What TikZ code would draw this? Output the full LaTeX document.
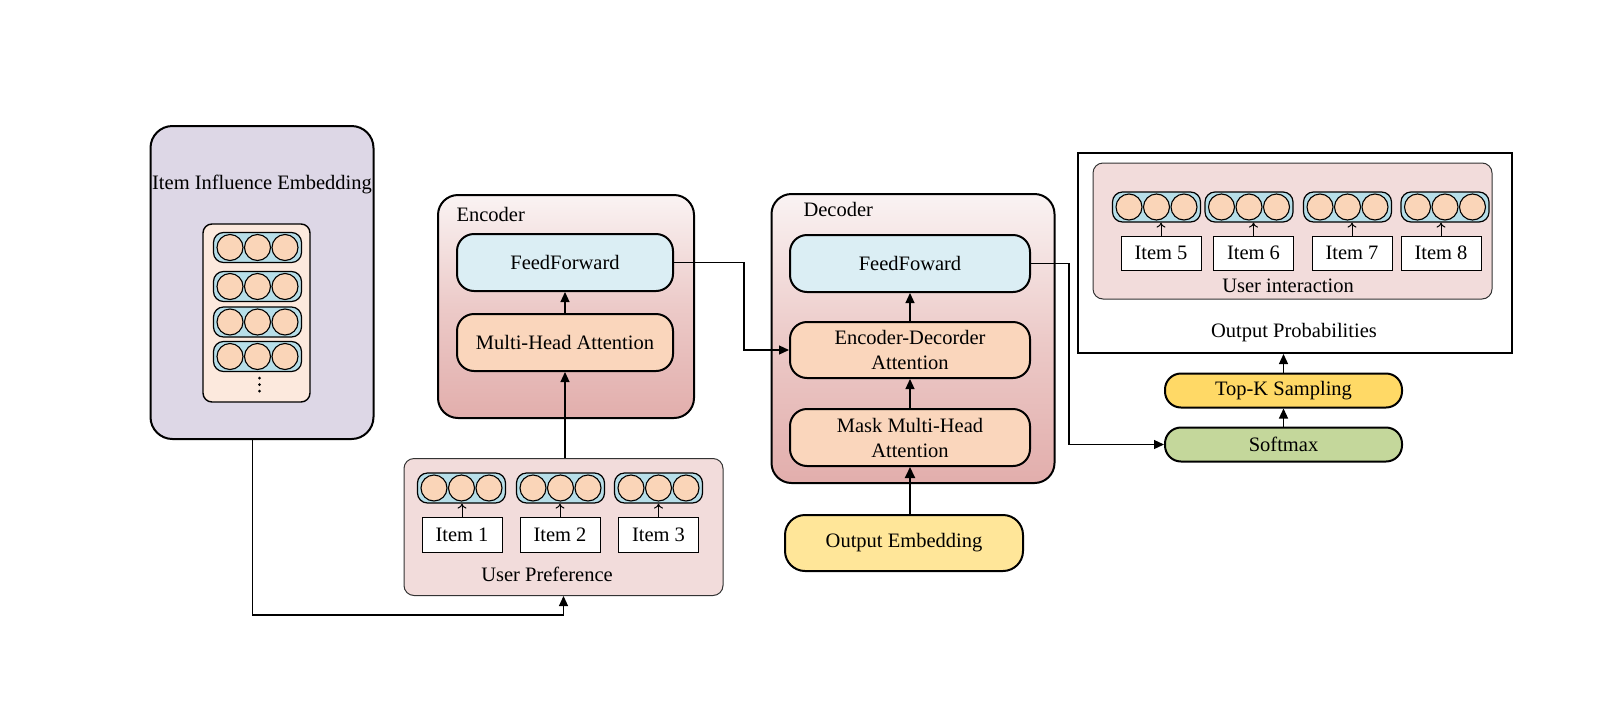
\documentclass[tikz,border=0pt]{standalone}
\usepackage{fontspec}
\setmainfont{Liberation Serif}
\usetikzlibrary{arrows.meta,calc}
\definecolor{lav}{HTML}{DDD7E6}
\definecolor{innerpeach}{HTML}{FCE9DD}
\definecolor{capblue}{HTML}{B7DEE8}
\definecolor{peach}{HTML}{FAD5B8}
\definecolor{ffblue}{HTML}{DBEEF4}
\definecolor{attpeach}{HTML}{FAD6BC}
\definecolor{pinkbox}{HTML}{F2DCDB}
\definecolor{enctop}{HTML}{FAF3F3}
\definecolor{encmid}{HTML}{ECCAC8}
\definecolor{encbot}{HTML}{E2AEAC}
\definecolor{oemb}{HTML}{FFE699}
\definecolor{topk}{HTML}{FFD966}
\definecolor{softg}{HTML}{C4D79B}
\begin{document}
\begin{tikzpicture}[x=1pt,y=-1pt,
  txt/.style={font=\fontsize{20.5}{25}\selectfont},
  bigbox/.style={draw=black, line width=2pt, inner sep=0pt, align=center, txt},
  ffbox/.style={bigbox, rounded corners=17pt, fill=ffblue, minimum width=#1, minimum height=57pt},
  attbox/.style={bigbox, rounded corners=17pt, fill=attpeach, minimum width=#1, minimum height=57pt},
  pill/.style={bigbox, rounded corners=16pt, minimum width=237pt, minimum height=34pt},
  shadedbox/.style={draw=black, line width=2pt, rounded corners=20pt, inner sep=0pt,
     top color=enctop, bottom color=encbot, middle color=encmid},
  itembox/.style={draw=black, line width=1pt, fill=white, inner sep=0pt,
     minimum width=80pt, minimum height=35pt, txt},
  conn/.style={line width=1.2pt, -{Triangle[length=10pt,width=9pt]}},
  small/.style={line width=1pt, -{To[length=5pt,width=9pt]}},
  capsule/.pic={
    \node[draw=black, line width=1.2pt, fill=capblue, rounded corners=10pt,
      minimum width=88pt, minimum height=30pt, inner sep=0pt] (-c) {};
    \foreach \dx in {-27.5,0,27.5}
      \draw[line width=1.1pt, fill=peach] (\dx,0) circle (13pt);
  }
]
\useasboundingbox (0,0) rectangle (1607,702);

% ---------- Item Influence Embedding ----------
\node[draw=black, line width=2pt, fill=lav, rounded corners=22pt, inner sep=0pt,
  minimum width=223pt, minimum height=313pt] (iie) at (262,282.5) {};
\node[txt] (iietitle) at (262,184) {Item Influence Embedding};
\node[draw=black, line width=1.4pt, fill=innerpeach, rounded corners=9pt, inner sep=0pt,
  minimum width=107pt, minimum height=178pt] (iieinner) at (256.5,313) {};
\pic (r1) at (257.5,247.5) {capsule};
\pic (r2) at (257.5,286.5) {capsule};
\pic (r3) at (257.5,322) {capsule};
\pic (r4) at (257.5,356.5) {capsule};
\foreach \yy in {378,384.5,391}
  \fill[black] (259.5,\yy) circle (1.5pt);

% ---------- Encoder ----------
\node[shadedbox, minimum width=256pt, minimum height=223pt] (enc) at (566,306.5) {};
\node[txt, anchor=west] (enclabel) at (453,214) {Encoder};
\node[ffbox=216pt] (eff) at (565,262.5) {FeedForward};
\node[attbox=216pt] (emha) at (565,342.5) {Multi-Head Attention};

% ---------- User Preference ----------
\node[draw=black!80, line width=1pt, fill=pinkbox, rounded corners=10pt, inner sep=0pt,
  minimum width=319pt, minimum height=137pt] (up) at (563.5,527) {};
\pic (u1) at (461.5,488) {capsule};
\pic (u2) at (560.5,488) {capsule};
\pic (u3) at (658.5,488) {capsule};
\node[itembox] (i1) at (462,534.5) {Item 1};
\node[itembox] (i2) at (560,534.5) {Item 2};
\node[itembox] (i3) at (658.5,534.5) {Item 3};
\node[txt] (uplabel) at (547,574) {User Preference};
\draw[small] (i1.north) -- (i1.north |- u1-c.south);
\draw[small] (i2.north) -- (i2.north |- u2-c.south);
\draw[small] (i3.north) -- (i3.north |- u3-c.south);

% ---------- Decoder ----------
\node[shadedbox, minimum width=283pt, minimum height=289pt] (dec) at (913,338.5) {};
\node[txt, anchor=west] (declabel) at (800,209) {Decoder};
\node[ffbox=240pt] (dff) at (910,263.5) {FeedFoward};
\node[attbox=240pt, minimum height=56pt] (eda) at (910,350) {Encoder-Decorder\\Attention};
\node[attbox=240pt] (mmha) at (910,437.5) {Mask Multi-Head\\Attention};
\node[bigbox, rounded corners=20pt, fill=oemb, minimum width=238pt, minimum height=56pt] (oe) at (904,543) {Output Embedding};

% ---------- Output side ----------
\node[draw=black, line width=2pt, fill=white, inner sep=0pt,
  minimum width=434pt, minimum height=200pt] (op) at (1295,253) {};
\node[draw=black!80, line width=1pt, fill=pinkbox, rounded corners=10pt, inner sep=0pt,
  minimum width=399pt, minimum height=136pt] (ui) at (1292.5,231) {};
\pic (c5) at (1156.5,207) {capsule};
\pic (c6) at (1249,207) {capsule};
\pic (c7) at (1347.5,207) {capsule};
\pic (c8) at (1445,207) {capsule};
\node[itembox, minimum height=34pt] (i5) at (1161,253) {Item 5};
\node[itembox, minimum height=34pt] (i6) at (1253.5,253) {Item 6};
\node[itembox, minimum height=34pt] (i7) at (1352,253) {Item 7};
\node[itembox, minimum height=34pt] (i8) at (1441,253) {Item 8};
\draw[small] (i5.north) -- (i5.north |- c5-c.south);
\draw[small] (i6.north) -- (i6.north |- c6-c.south);
\draw[small] (i7.north) -- (i7.north |- c7-c.south);
\draw[small] (i8.north) -- (i8.north |- c8-c.south);
\node[txt] (uilabel) at (1288,286) {User interaction};
\node[txt] (oplabel) at (1294,333) {Output Probabilities};

\node[pill, fill=topk] (tk) at (1283.5,390.5) {Top-K Sampling};
\node[pill, fill=softg] (sm) at (1283.5,444.5) {Softmax};

% ---------- Connectors ----------
\draw[conn] (emha.north) -- (eff.south);
\draw[conn] (up.north -| emha.south) -- (emha.south);
\draw[conn] (eda.north) -- (dff.south);
\draw[conn] (mmha.north) -- (eda.south);
\draw[line width=2pt, -{Triangle[length=11pt,width=10pt]}] (oe.north -| mmha.south) -- (mmha.south);
\coordinate (b1) at (252.5,615);
\draw[conn] (iie.south -| b1) -- (b1) -- (b1 -| up.south) -- (up.south);
\coordinate (k1) at (744,0);
\draw[conn] (eff.east) -- (eff.east -| k1) -- (eda.west -| k1) -- (eda.west);
\coordinate (k2) at (1069,0);
\draw[conn] (dff.east) -- (dff.east -| k2) -- (sm.west -| k2) -- (sm.west);
\draw[conn] (sm.north) -- (tk.south);
\draw[conn] (tk.north) -- (op.south -| tk.north);
\end{tikzpicture}
\end{document}
